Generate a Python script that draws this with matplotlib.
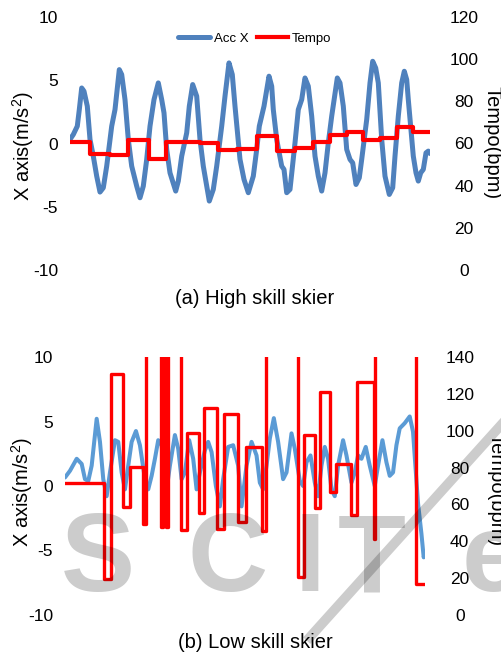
import matplotlib
matplotlib.use("Agg")
import matplotlib.pyplot as plt
import numpy as np
from matplotlib.lines import Line2D

plt.rcParams['font.family'] = ['Liberation Sans', 'DejaVu Sans']
plt.rcParams['mathtext.fontset'] = 'custom'
plt.rcParams['mathtext.rm'] = 'Liberation Sans'
plt.rcParams['mathtext.it'] = 'Liberation Sans'
plt.rcParams['axes.unicode_minus'] = False

# ---- (a) high skill skier: acceleration (m/s^2) and tempo (bpm) over time (s)
high_t = [0, 0.33, 0.73, 0.93, 1.17, 1.4, 1.73, 2.0, 2.33, 2.67, 3.0, 3.33, 3.67, 4.17, 4.5,
          4.93, 5.17, 5.5, 5.83, 6.17, 6.67, 7.0, 7.33, 7.67, 8.0, 8.4, 8.83, 9.17, 9.4, 9.67,
          10.0, 10.57, 10.83, 11.17, 11.67, 11.93, 12.27, 12.67, 13.0, 13.33, 13.93, 14.33,
          14.67, 15.17, 15.5, 15.9, 16.23, 16.5, 17.0, 17.4, 17.83, 18.33, 18.67, 18.93, 19.4,
          19.9, 20.17, 20.33, 20.67, 21.17, 21.4, 21.67, 22.0, 22.5, 22.83, 23.17, 23.5, 23.83,
          24.17, 24.5, 24.83, 25.17, 25.5, 25.83, 26.17, 26.73, 27.0, 27.33, 27.67, 28.0, 28.27,
          28.6, 28.93, 29.17, 29.67, 30.0, 30.27, 30.57, 30.83, 31.17, 31.5, 31.93, 32.27, 32.5,
          32.83, 33.17, 33.43, 33.67, 33.83, 34.33, 34.6, 34.83, 35.07, 35.33, 35.6, 35.83, 36.0]
high_acc = [0.32, 0.71, 1.37, 2.68, 4.39, 4.13, 2.95, 0.32, -1.0, -2.58, -3.84, -3.5, -1.79, 1.37,
            2.68, 5.84, 5.45, 3.47, 0.32, -1.79, -3.37, -4.29, -3.37, -1.26, 1.37, 3.47, 4.79,
            3.47, 2.42, -0.47, -2.32, -3.76, -2.97, -1.0, 0.84, 2.95, 4.66, 3.74, 0.32, -1.79,
            -4.55, -3.63, -1.79, 1.37, 3.74, 6.37, 5.45, 2.95, -1.26, -2.84, -3.89, -2.58, -0.47,
            1.37, 2.95, 5.32, 4.53, 2.68, 0.32, -1.79, -2.05, -3.89, -3.63, 0.05, 2.68, 3.47, 5.18,
            4.53, 2.16, -1.0, -2.58, -3.76, -2.32, 0.05, 2.16, 5.18, 4.79, 2.95, -0.47, -1.26,
            -1.53, -3.24, -2.71, -1.26, 1.89, 4.79, 6.5, 5.97, 4.79, 0.32, -2.58, -4.03, -3.5,
            -1.0, 2.16, 4.79, 5.71, 5.05, 3.47, -1.0, -2.32, -2.97, -2.32, -2.05, -0.74, -0.6, -0.79]
high_tempo_start = [0, 2.0, 4.0, 5.83, 7.9, 9.57, 13.0, 14.83, 16.67, 18.67, 20.73, 22.5, 24.33,
                    26.0, 27.67, 29.33, 31.0, 32.73, 34.33, 36.0]
high_tempo = [60.5, 55, 54.5, 61.5, 52.5, 60.5, 60, 57, 57.5, 63.5, 56.5, 58, 60.5, 64, 65.5,
              61.5, 62.5, 68, 65.5]

# ---- (b) low skill skier
low_t = [0, 0.5, 1.17, 1.67, 2.0, 2.33, 2.67, 3.17, 3.5, 3.83, 4.17, 4.5, 5.0, 5.33, 5.67, 6.0,
         6.33, 6.67, 7.1, 7.5, 8.0, 8.33, 8.67, 9.0, 9.33, 9.67, 10.0, 10.17, 10.5, 11.0, 11.33,
         11.67, 12.0, 12.43, 12.83, 13.17, 13.5, 14.0, 14.33, 14.67, 15.1, 15.5, 15.83, 16.33,
         16.83, 17.33, 17.67, 18.17, 18.67, 19.17, 19.5, 19.83, 20.17, 20.5, 20.9, 21.33, 21.83,
         22.17, 22.67, 23.0, 23.5, 23.83, 24.17, 24.57, 25.0, 25.33, 25.67, 26.0, 26.33, 26.67,
         27.0, 27.33, 27.83, 28.17, 28.67, 29.0, 29.33, 29.67, 30.1, 30.5, 31.0, 31.33, 31.77,
         32.17, 32.5, 32.83, 33.17, 33.5, 34.0, 34.5, 34.83, 35.33, 35.67, 35.9, 36.03]
low_acc = [0.66, 1.18, 2.11, 1.71, 0.53, 0.39, 1.58, 5.21, 3.42, 0.53, -0.79, 1.05, 3.55, 3.42,
           1.05, -0.26, 1.58, 3.42, 4.26, 3.16, 0.53, -0.26, 0.79, 2.11, 3.55, 3.16, 0.79, -0.26,
           1.58, 3.95, 2.89, 0.53, 1.05, 3.55, 2.11, -0.26, 1.05, 2.76, 3.42, 2.63, 0.0, -1.58,
           0.53, 3.03, 3.16, 1.58, -1.58, 1.58, 3.42, 2.37, 0.26, -0.26, 1.58, 3.68, 5.26, 3.42,
           0.53, 1.05, 4.08, 2.89, 0.39, 0.0, 1.84, 2.37, 0.26, -0.79, 1.58, 3.03, 2.11, -0.26,
           -0.79, 1.58, 3.55, 2.37, 0.26, 1.05, 2.37, 2.11, 3.03, 1.58, 0.0, 1.58, 3.55, 1.84,
           0.79, 1.05, 3.16, 4.47, 4.87, 5.39, 4.21, -1.32, -3.68, -5.53, -5.13]
low_tempo_start = [0, 3.9, 4.6, 5.83, 6.5, 7.83, 8.07, 9.63, 9.83, 10.07, 10.27, 11.57, 12.17,
                   13.43, 13.9, 15.23, 15.9, 17.33, 18.1, 19.67, 20.1, 23.27, 23.9, 25.0, 25.57,
                   26.57, 27.1, 28.67, 29.23, 30.9, 31.07, 35.1, 35.9]
low_tempo = [71.5, 19.5, 131, 58.5, 80.5, 49.5, 200, 47.5, 200, 47.5, 200, 46, 98.5, 55.5, 112.5,
             46.5, 109, 50.5, 91, 45.5, 200, 20.4, 97.5, 58, 121, 67, 82, 54.5, 126.5, 41, 200, 17]

W, H = 501, 654
fig = plt.figure(figsize=(W / 100, H / 100), dpi=100)


def px(x, y):
    return x / W, 1 - y / H


def make_panel(rect, t, acc, tstart, tempo, acc_color, acc_lw, tempo_lw, tmax, rpad, lpad):
    ax = fig.add_axes(rect)
    ax.plot(t, acc, color=acc_color, lw=acc_lw, solid_capstyle='round',
            solid_joinstyle='round', label='Acc X')
    ax.set_ylim(-10, 10)
    ax.set_yticks([-10, -5, 0, 5, 10])
    ax.set_xlim(min(t), max(t))
    ax.set_xticks([])
    ax2 = ax.twinx()
    ax2.step(tstart, list(tempo) + [tempo[-1]], where='post', color='#FF0000', lw=tempo_lw,
             label='Tempo')
    ax2.set_ylim(0, tmax)
    ax2.set_yticks(np.arange(0, tmax + 1, 20))
    for a in (ax, ax2):
        for s in a.spines.values():
            s.set_visible(False)
        a.tick_params(length=0, labelsize=12.5, colors='black')
    ax.tick_params(axis='y', pad=lpad)
    ax2.tick_params(axis='y', pad=rpad)
    for lab in ax2.get_yticklabels():
        lab.set_horizontalalignment('center')
    return ax, ax2


l, b = px(70, 270)
ax_a, ax_a2 = make_panel([l, b, 360 / W, 253 / H], high_t, high_acc, high_tempo_start,
                         high_tempo, '#4F81BD', 3.6, 3.0, 120, 24.5, 8.6)
l, b = px(65, 615)
ax_b, ax_b2 = make_panel([l, b, 360 / W, 258 / H], low_t, low_acc, low_tempo_start,
                         low_tempo, '#5B9BD5', 2.9, 2.4, 140, 25, 8.6)

h1, l1 = ax_a.get_legend_handles_labels()
h2, l2 = ax_a2.get_legend_handles_labels()
fig.legend(h1 + h2, l1 + l2, loc='center', bbox_to_anchor=px(255, 39), ncol=2, frameon=False,
           fontsize=9.5, handlelength=2.4, handletextpad=0.3, columnspacing=0.6)

fig.text(*px(23, 146), r'X axis(m/s$^2$)', rotation=90, ha='center', va='center', fontsize=14.5)
fig.text(*px(492, 143), 'Tempo(bpm)', rotation=270, ha='center', va='center', fontsize=14.5)
fig.text(*px(255, 298), '(a) High skill skier', ha='center', va='center', fontsize=14.5)
fig.text(*px(22, 492), r'X axis(m/s$^2$)', rotation=90, ha='center', va='center', fontsize=14.5)
fig.text(*px(496, 490), 'Tempo(bpm)', rotation=270, ha='center', va='center', fontsize=14.5)
fig.text(*px(255, 642), '(b) Low skill skier', ha='center', va='center', fontsize=14.5)

# watermark
for ch, x in [('S', 98), ('C', 228), ('I', 310), ('T', 372), ('e', 492)]:
    fig.text(*px(x, 562), ch, ha='center', va='center', fontsize=80, fontweight='bold',
             color='black', alpha=0.2, zorder=10)
fig.add_artist(Line2D([520 / W, 310 / W], [1 - 404 / H, 1 - 637 / H], color='black',
                      alpha=0.2, lw=7, zorder=10))

fig.savefig('out.png', dpi=100)
